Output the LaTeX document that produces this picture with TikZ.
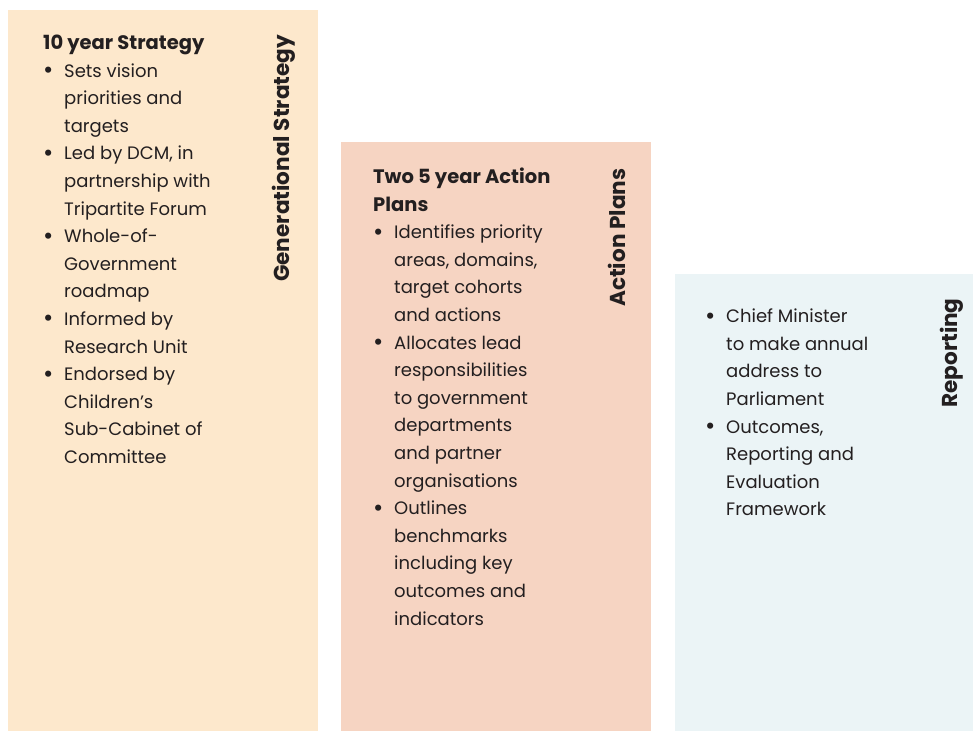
\documentclass[tikz,border=0pt]{standalone}
\usepackage{fontspec}
\setmainfont{Poppins}
\newcommand{\bitem}{\makebox[21pt][l]{\raisebox{-1.5pt}{\fontsize{25}{0}\selectfont\textbullet}}}
\newcommand{\bcont}{\hspace*{21pt}}
\newcommand{\colhead}[1]{{\fontsize{19.5}{27.6}\selectfont\bfseries #1}}

\begin{document}
\begin{tikzpicture}[x=1pt, y=1pt]
  % Styles
  \tikzset{
    body/.style={anchor=north west, inner sep=0pt, align=left, text=ink,
      font=\fontsize{18}{27.6}\selectfont, execute at begin node=\strut},
    side/.style={rotate=90, anchor=base west, inner sep=0pt, text=ink,
      font=\fontsize{21.6}{24}\selectfont\bfseries},
  }
  \definecolor{ink}{HTML}{231F20}
  \definecolor{gencol}{HTML}{FDE8CC}
  \definecolor{actcol}{HTML}{F6D4C2}
  \definecolor{repcol}{HTML}{EBF4F6}

  % Cadre
  \useasboundingbox[fill=white] (0,0) rectangle (973,732);

  % Colonnes
  \fill[gencol] (8,1) rectangle (318,722);
  \fill[actcol] (341,1) rectangle (651,590);
  \fill[repcol] (675,1) rectangle (973,458);

  % Generational Strategy
  \node[body] (gstext) at (43,697.3) {\colhead{10 year Strategy}\\
    \bitem Sets vision\\
    \bcont priorities and\\
    \bcont targets\\
    \bitem Led by DCM, in\\
    \bcont partnership with\\
    \bcont Tripartite Forum\\
    \bitem Whole-of-\\
    \bcont Government\\
    \bcont roadmap\\
    \bitem Informed by\\
    \bcont Research Unit\\
    \bitem Endorsed by\\
    \bcont Children’s\\
    \bcont Sub-Cabinet of\\
    \bcont Committee};
  \node[side] (gslabel) at (289,450) {Generational Strategy};

  % Action Plans
  \node[body] (aptext) at (373,564.3) {\colhead{Two 5 year Action}\\
    \colhead{Plans}\\
    \bitem Identifies priority\\
    \bcont areas, domains,\\
    \bcont target cohorts\\
    \bcont and actions\\
    \bitem Allocates lead\\
    \bcont responsibilities\\
    \bcont to government\\
    \bcont departments\\
    \bcont and partner\\
    \bcont organisations\\
    \bitem Outlines\\
    \bcont benchmarks\\
    \bcont including key\\
    \bcont outcomes and\\
    \bcont indicators};
  \node[side] (aplabel) at (625,425) {Action Plans};

  % Reporting
  \node[body] (rptext) at (705,423.3) {\bitem Chief Minister\\
    \bcont to make annual\\
    \bcont address to\\
    \bcont Parliament\\
    \bitem Outcomes,\\
    \bcont Reporting and\\
    \bcont Evaluation\\
    \bcont Framework};
  \node[side] (rplabel) at (957,324) {Reporting};

\end{tikzpicture}
\end{document}
